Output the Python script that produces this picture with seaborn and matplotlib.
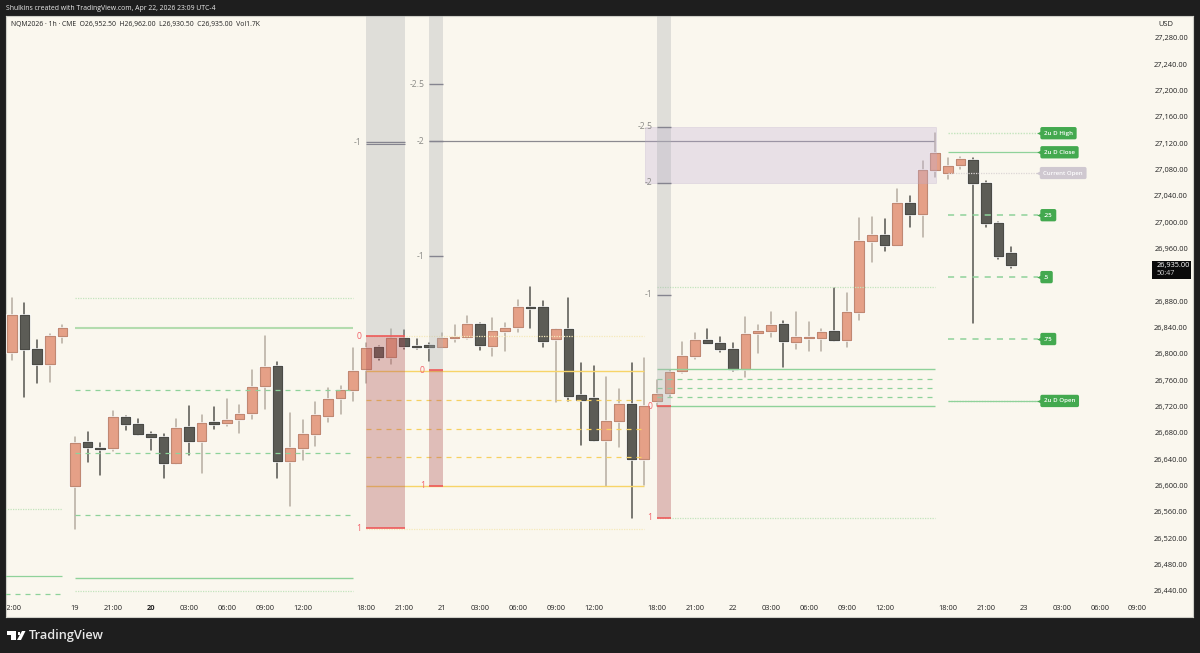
import matplotlib
matplotlib.use('Agg')
import matplotlib.pyplot as plt
import matplotlib.patheffects as pe
from matplotlib.patches import Polygon, Rectangle
import pandas as pd
import seaborn as sns

bars = list(range(-5, 75))
opens = [26802.5, 26859, 26807, 26784.5, 26827,
         26599.5, 26666, 26657, 26657, 26704,
         26693.5, 26678, 26673.5, 26634, 26689,
         26667.5, 26696.5, 26695, 26701, 26710,
         26751, 26781.5, 26637, 26657, 26678,
         26705.5, 26733, 26745, 26777, 26810.5,
         26795, 26824, 26812, 26813.5, 26810.5,
         26824, 26825.5, 26845, 26812, 26834.5,
         26840.5, 26871, 26871, 26822.5, 26837.5,
         26737.5, 26733, 26669, 26698, 26723.5,
         26640, 26728.5, 26740.5, 26774, 26796.5,
         26821, 26816.5, 26807, 26777, 26831.5,
         26834.5, 26845, 26818, 26824, 26824,
         26834.5, 26821, 26863.5, 26971, 26980.5,
         26965, 27029, 27012, 27079, 27074.5,
         27086.5, 27094, 27059, 26998.5, 26952.5]
highs = [26884.5, 26877, 26821, 26830, 26843.5,
         26673.5, 26681, 26664.5, 26713, 26705.5,
         26701, 26681, 26678, 26701, 26720.5,
         26707, 26719, 26731.5, 26722, 26775.5,
         26827, 26787.5, 26710, 26699.5, 26727,
         26748, 26751, 26808.5, 26816.5, 26812,
         26837.5, 26836, 26822.5, 26816.5, 26831.5,
         26843.5, 26857.5, 26846.5, 26854.5, 26846.5,
         26881.5, 26901.5, 26880, 26837.5, 26884.5,
         26786, 26781.5, 26764.5, 26746.5, 26786,
         26793.5, 26760, 26775.5, 26818, 26831.5,
         26837.5, 26825.5, 26816.5, 26856, 26843.5,
         26863.5, 26849.5, 26863.5, 26848, 26837.5,
         26900, 26892, 27006, 27007.5, 27004.5,
         27050, 27039.5, 27092.5, 27135, 27097,
         27098.5, 27097, 27062, 27000, 26962]
lows = [26790.5, 26734.5, 26755.5, 26757, 26816.5,
        26534, 26635.5, 26616, 26652.5, 26684.5,
        26676.5, 26654, 26611.5, 26632.5, 26646.5,
        26619, 26686, 26690.5, 26679.5, 26701,
        26716, 26611.5, 26569, 26638.5, 26660,
        26696.5, 26708.5, 26728.5, 26755.5, 26790.5,
        26784.5, 26807, 26807, 26789, 26810,
        26818, 26822.5, 26805.5, 26796.5, 26804,
        26833, 26839, 26810.5, 26727, 26728.5,
        26661.5, 26667.5, 26599.5, 26658.5, 26551,
        26601, 26720.5, 26734.5, 26771, 26792,
        26816, 26802.5, 26774, 26764.5, 26801,
        26825.5, 26780, 26807, 26804, 26804,
        26819.5, 26810.5, 26851, 26939.5, 26956,
        26964.5, 26992.5, 26977, 27068.5, 27065.5,
        27080.5, 26846.5, 26992.5, 26944, 26930.5]
closes = [26859, 26807, 26784.5, 26827, 26839,
          26664.5, 26658.5, 26655.5, 26704, 26693.5,
          26678, 26673.5, 26634, 26687.5, 26667.5,
          26695, 26693.5, 26699.5, 26708.5, 26749.5,
          26780, 26637, 26657, 26678, 26707,
          26731.5, 26745, 26774, 26808.5, 26795,
          26824, 26812, 26810.5, 26810.5, 26824,
          26825.5, 26845, 26813.5, 26834.5, 26839,
          26871, 26869.5, 26819.5, 26837.5, 26736,
          26730, 26669, 26698, 26723.5, 26640,
          26720.5, 26739, 26772.5, 26796.5, 26821,
          26816.5, 26807, 26777, 26830, 26834.5,
          26843.5, 26819.5, 26825.5, 26825.5, 26833,
          26821, 26863.5, 26971, 26980.5, 26965,
          27029, 27012, 27079, 27104.5, 27085,
          27095.5, 27059, 26998.5, 26948.5, 26935]

# session levels (price lists)
left_dotted = [26564.5]
left_solid = [26462.5]
left_dashed = [26435.5]
s1_dotted = [26884.5, 26440]
s1_solid = [26839, 26459.5]
s1_dashed = [26745, 26649.5, 26555]
s2_dotted = [26827, 26534]
s2_solid = [26774, 26599.5]
s2_dashed = [26730, 26686, 26643.5]
s3_dotted = [26901.5, 26551]
s3_solid = [26777, 26720.5]
s3_dashed = [26762, 26748, 26734.5]
s4_dotted = [27135, 26728.5]
s4_solid = [27106, 26728.5]
s4_dashed = [27010.5, 26916.5, 26822.5]
current_open = 27074.5

# fib bands: start bar, price at 0, price at 1, extra levels
band_starts = [23, 28, 46]
band_widths = [3.05, 1.08, 1.08]
band_zero = [26827, 26775, 26720.5]
band_one = [26535, 26600, 26551]
band_levels = [[(-1, 27121.5)],
               [(-1, 26948.5), (-2, 27122.5), (-2.5, 27209.5)],
               [(-1, 26889.5), (-2, 27059.5), (-2.5, 27144.5)]]
second_minus_one = 27118.5
long_line = 27122.5
box_top = 27143.75
box_bottom = 27058.75

tag_labels = ['2u D High', '2u D Close', '.25', '.5', '.75', '2u D Open']
tag_prices = [27135, 27106, 27010.5, 26916.5, 26822.5, 26728.5]

price_ticks = [26440, 26480, 26520, 26560, 26600, 26640, 26680, 26720, 26760, 26800, 26840,
               26880, 26960, 27000, 27040, 27080, 27120, 27160, 27200, 27240, 27280]
time_ticks = [-5, 0, 3, 6, 9, 12, 15, 18, 23, 26, 29, 32, 35, 38, 41, 46, 49, 52, 55, 58, 61,
              64, 69, 72, 75, 78, 81, 84]
time_labels = ['12:00', '19', '21:00', '20', '03:00', '06:00', '09:00', '12:00', '18:00', '21:00',
               '21', '03:00', '06:00', '09:00', '12:00', '18:00', '21:00', '22', '03:00', '06:00',
               '09:00', '12:00', '18:00', '21:00', '23', '03:00', '06:00', '09:00']

BG = '#faf7ee'
DARK = '#1e1e1e'
UP = '#e5a087'
DOWN = '#5c5c56'
FONT = 'Open Sans'

sns.set_theme(style='white', rc={'font.family': FONT})
fig = plt.figure(figsize=(12, 6.53), dpi=100, facecolor=DARK)
ax = fig.add_axes([6 / 1200, 36 / 653, 1187 / 1200, 601 / 653], facecolor=BG)

df = pd.DataFrame({'bar': bars, 'open': opens, 'high': highs, 'low': lows, 'close': closes})
df['dir'] = ['up' if c >= o else 'down' for o, c in zip(df['open'], df['close'])]

wicks = df.melt(id_vars=['bar', 'dir'], value_vars=['high', 'low'], value_name='price')
sns.lineplot(data=wicks, x='bar', y='price', units='bar', estimator=None, hue='dir',
             palette={'up': '#b5aca0', 'down': '#55554f'}, linewidth=1.1, legend=False,
             sort=False, ax=ax, zorder=2)

body_low = df[['open', 'close']].min(axis=1)
body_h = (df['open'] - df['close']).abs()
for d, face, edge in [('up', UP, '#c08872'), ('down', DOWN, '#4b4b46')]:
    m = df['dir'] == d
    rects = ax.bar(df['bar'][m], body_h[m], bottom=body_low[m], width=0.76, color=face,
                   edgecolor=edge, linewidth=0.8, zorder=3)
    for r in rects:
        r.set_path_effects([pe.withStroke(linewidth=1.8, foreground='#ffffff'), pe.Normal()])

GREEN = dict(solid='#8fd29a', dashed='#8ed29a', dotted='#c3e4bd')
YELLOW = dict(solid='#f7d468', dashed='#f6d062', dotted='#f5e9ba')
DOTS = (0, (1, 1))
DASH = (0, (4, 4))


def levels(x0, x1, prices, kind, cols, lw=0.9):
    style = {'solid': '-', 'dashed': DASH, 'dotted': DOTS}[kind]
    ax.hlines(prices, x0, x1, colors=cols[kind], linestyles=style, linewidth=lw, zorder=3.5)


levels(-5.5, -1, left_dotted, 'dotted', GREEN)
levels(-5.5, -1, left_solid, 'solid', GREEN)
levels(-5.5, -1.2, left_dashed, 'dashed', GREEN)
levels(0, 22, s1_dotted, 'dotted', GREEN)
levels(0, 22, s1_solid[:1], 'solid', dict(solid='#b3dcae'), lw=1.5)
levels(0, 22, s1_solid[1:], 'solid', GREEN, lw=1.0)
levels(0, 22, s1_dashed, 'dashed', GREEN)
levels(23, 45, s2_dotted, 'dotted', YELLOW)
levels(23, 45, s2_solid, 'solid', YELLOW, lw=1.0)
levels(23, 45, s2_dashed, 'dashed', YELLOW)
levels(46, 68, s3_dotted, 'dotted', GREEN)
levels(46, 68, s3_solid, 'solid', GREEN, lw=1.0)
levels(46, 68, s3_dashed, 'dashed', GREEN)
levels(69, 76.1, s4_dotted, 'dotted', GREEN, lw=1.0)
levels(69, 76.1, s4_solid, 'solid', GREEN)
levels(69, 76.1, s4_dashed, 'dashed', GREEN, lw=1.1)
ax.hlines(current_open, 69, 76.1, colors='#dcd6d6', linestyles=DOTS, linewidth=0.9, zorder=3.5)

ax.hlines(long_line, 28, 67.9, colors='#8b8a90', linewidth=0.9, zorder=3.6)
ax.add_patch(Rectangle((45.06, box_bottom), 23, box_top - box_bottom, facecolor='#c1aed4',
                       edgecolor='#b9a9c7', linewidth=0.6, alpha=0.3, zorder=4))

for start, width, zero, one, extra in zip(band_starts, band_widths, band_zero, band_one, band_levels):
    ax.add_patch(Rectangle((start, zero), width, 27320 - zero, facecolor='#adb2b4', edgecolor='none',
                           alpha=0.35, zorder=4))
    ax.add_patch(Rectangle((start, one), width, zero - one, facecolor='#ad5155', edgecolor='none',
                           alpha=0.35, zorder=4))
    ax.hlines([zero, one], start, start + width, colors='#ee5a5a', linewidth=1.2, zorder=4.5)
    for val, text in [(zero, '0'), (one, '1')]:
        ax.annotate(text, (start, val), xytext=(-3.2, 0), textcoords='offset points', ha='right',
                    va='center', fontsize=6.2, color='#f2636b', zorder=5)
    for fib, price in extra:
        ax.hlines(price, start, start + width, colors='#85848f', linewidth=1.0, zorder=4.5)
        ax.annotate(f'{fib:g}', (start, price), xytext=(-3.2, 0), textcoords='offset points', ha='right',
                    va='center', fontsize=6.2, color='#8a8a86', zorder=5)
ax.hlines(second_minus_one, band_starts[0], band_starts[0] + band_widths[0], colors='#85848f',
          linewidth=0.8, zorder=4.5)

# price tags on the right of the last session
for label, price in zip(tag_labels, tag_prices):
    ax.scatter([76.25], [price], marker='<', s=22, color='#43a94f', linewidths=0, zorder=5)
    ax.text(76.6, price, label, ha='left', va='center', fontsize=4.4, color='white', zorder=6,
            fontweight='semibold',
            bbox=dict(boxstyle='round,pad=0.6,rounding_size=0.3', fc='#43a94f', ec='none'))
ax.scatter([76.2], [current_open], marker='<', s=22, color='#cfc8d0', linewidths=0, zorder=5)
ax.text(76.55, current_open, 'Current Open', ha='left', va='center', fontsize=4.3, color='white', zorder=6,
        fontweight='semibold',
        bbox=dict(boxstyle='round,pad=0.6,rounding_size=0.3', fc='#cfc8d0', ec='none'))

ax.set_xlim(-5.455, 88.38)
ax.set_ylim(26400.5, 27312.9)
ax.set_xlabel('')
ax.set_ylabel('')

ax.yaxis.tick_right()
ax.set_yticks(price_ticks)
ax.set_yticklabels([f'{p:,.2f}' for p in price_ticks], ha='right', fontsize=5.4, color='#222222')
ax.tick_params(axis='y', length=0, pad=-3.6)
ax.set_xticks(time_ticks)
ax.set_xticklabels(time_labels, fontsize=5.4, color='#222222', va='center')
ax.tick_params(axis='x', length=0, pad=-5.8)
for lab in ax.get_xticklabels():
    lab.set_clip_box(ax.bbox)
    lab.set_clip_on(True)
    if lab.get_text() == '20':
        lab.set_fontweight('bold')

for s in ax.spines.values():
    s.set_color('#cfcfc8')
    s.set_linewidth(0.8)

# last price box
fig.add_artist(Rectangle((1152 / 1200, 1 - 279 / 653), 39 / 1200, 18 / 653, transform=fig.transFigure,
                         facecolor='#0a0a0a', edgecolor='none', zorder=6))
fig.text(1156.5 / 1200, 1 - 265.5 / 653, '26,935.00', color='white', fontsize=5.3, va='center', zorder=7)
fig.text(1156.5 / 1200, 1 - 273.5 / 653, '50:47', color='#cfcfcf', fontsize=5.2, va='center', zorder=7)

fig.text(1158.5 / 1200, 1 - 25 / 653, 'USD', color='#222222', fontsize=5.4, va='center')
fig.text(6 / 1200, 1 - 8.5 / 653, 'Shulkins created with TradingView.com, Apr 22, 2026 23:09 UTC-4',
         color='#ececec', fontsize=4.95, fontweight='medium', va='center')
fig.text(10.5 / 1200, 1 - 24.5 / 653,
         'NQM2026 · 1h · CME  O26,952.50  H26,962.00  L26,930.50  C26,935.00  Vol1.7K',
         color='#222222', fontsize=4.95, fontweight='medium', va='center')


# footer logo
def px(x, y):
    return (x / 1200, 1 - y / 653)


for pts in ([(7, 631), (16, 631), (16, 640), (11, 640), (11, 635), (7, 635)],
            [(22, 631), (25.5, 631), (21, 640), (17, 640)],
            [(17.5, 631.5), (20, 631.5), (20, 634.5), (17.5, 634.5)]):
    fig.add_artist(Polygon([px(*p) for p in pts], closed=True, transform=fig.transFigure,
                           facecolor='white', edgecolor='none'))
fig.text(29 / 1200, 1 - 635.5 / 653, 'TradingView', color='#e8e8e8', fontsize=9.2, fontweight='semibold', va='center')

fig.savefig('out.png', dpi=100, facecolor=fig.get_facecolor())
